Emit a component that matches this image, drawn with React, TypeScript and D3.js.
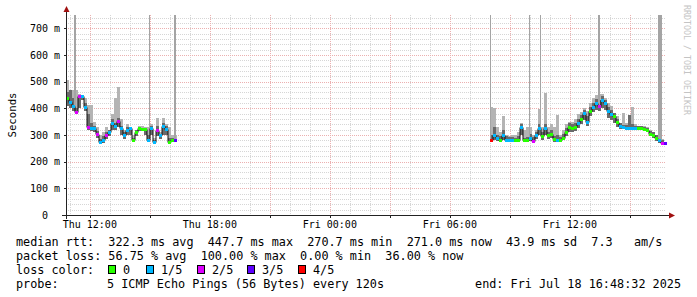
import React from "react";
import * as d3 from "d3";

// ---------- data ----------
const yTickValues = [0, 100, 200, 300, 400, 500, 600, 700];
const yTickLabels = ["0", "100 m", "200 m", "300 m", "400 m", "500 m", "600 m", "700 m"];
// minutes after window start (Thu 10:48:32)
const xTickMinutes = [71.47, 431.47, 791.47, 1151.47, 1511.47];
const xTickLabels = ["Thu 12:00", "Thu 18:00", "Fri 00:00", "Fri 06:00", "Fri 12:00"];
const windowMinutes = 1800;
const stepMinutes = 9;

const leftStart = 0;
const leftMedian = [440, 425, 410, 388, 446, 445, 405, 330, 328, 326, 305, 272, 280, 300, 312, 345, 335, 352, 325, 300, 320, 325, 282, 310, 326, 324, 322, 282, 326, 274, 320, 300, 332, 322, 275, 280, 280];
const leftLoss = [0, 1, 1, 2, 2, 1, 1, 2, 1, 1, 2, 1, 1, 2, 1, 1, 1, 2, 1, 1, 1, 1, 0, 0, 0, 0, 0, 1, 1, 1, 2, 1, 1, 1, 0, 0, 3];
const leftLo = [410, 400, 390, 380, 400, 430, 390, 320, 315, 310, 290, 265, 270, 285, 295, 320, 320, 330, 300, 285, 300, 300, 275, 295, 315, 315, 300, 272, 300, 268, 295, 285, 300, 300, 268, 272, 275];
const leftDarkHi = [460, 470, 440, 400, 450, 448, 420, 380, 345, 335, 315, 285, 295, 310, 318, 360, 345, 365, 335, 310, 330, 330, 290, 318, 330, 328, 326, 300, 332, 282, 335, 305, 345, 335, 290, 290, 285];
const leftHi = [506, 470, 470, 470, 452, 450, 440, 412, 412, 350, 330, 300, 310, 330, 320, 380, 438, 480, 360, 320, 340, 330, 300, 320, 332, 335, 330, 330, 340, 290, 362, 310, 362, 340, 330, 300, 300];

const rightStart = 1272;
const rightMedian = [282, 300, 290, 283, 300, 283, 282, 282, 281, 283, 330, 282, 282, 290, 278, 300, 325, 295, 325, 300, 305, 285, 280, 282, 290, 310, 330, 325, 330, 345, 360, 382, 350, 390, 405, 420, 410, 432, 420, 390, 380, 370, 350, 335, 330, 328, 328, 325, 326, 325, 326, 324, 318, 305, 300, 288, 280, 271, 271];
const rightLoss = [4, 1, 1, 0, 1, 1, 1, 1, 0, 0, 1, 0, 0, 1, 2, 1, 1, 0, 1, 0, 0, 0, 1, 0, 0, 0, 0, 0, 0, 1, 0, 1, 1, 0, 1, 1, 2, 1, 1, 1, 1, 0, 0, 1, 1, 1, 1, 1, 1, 0, 0, 0, 0, 0, 0, 0, 1, 2, 3];
const rightLo = [275, 280, 278, 272, 282, 272, 272, 272, 272, 272, 300, 272, 272, 278, 270, 285, 300, 280, 300, 285, 290, 275, 272, 272, 280, 295, 312, 310, 315, 325, 340, 355, 335, 370, 385, 395, 390, 400, 395, 365, 355, 345, 330, 322, 322, 320, 320, 318, 320, 318, 318, 316, 310, 295, 290, 278, 270, 265, 266];
const rightDarkHi = [300, 330, 300, 295, 320, 295, 292, 292, 290, 295, 340, 290, 292, 305, 292, 312, 340, 310, 340, 312, 318, 295, 300, 292, 305, 325, 345, 340, 345, 360, 375, 395, 370, 405, 420, 435, 430, 445, 432, 405, 395, 382, 360, 345, 338, 336, 375, 340, 334, 332, 332, 330, 325, 315, 310, 300, 290, 280, 275];
const rightHi = [405, 400, 330, 310, 370, 300, 295, 300, 300, 310, 345, 320, 330, 330, 300, 320, 397, 330, 457, 330, 340, 330, 375, 300, 320, 340, 350, 350, 360, 380, 386, 400, 390, 420, 440, 450, 455, 455, 440, 420, 410, 382, 370, 345, 382, 345, 375, 405, 340, 335, 335, 335, 330, 320, 310, 300, 290, 285, 275];

// off-scale spikes: centre minute, duration minutes, lower end (ms)
const spikeMinute = [25.5, 249, 325.5, 1273.5, 1389, 1422, 1599, 1780.5];
const spikeDuration = [6, 3, 6, 6, 3, 3, 6, 12];
const spikeBottom = [400, 300, 280, 280, 290, 300, 410, 275];

const lossColors = ["#26ff00", "#00b8ff", "#dd00ff", "#5e00ff", "#ff0000"];
const lossLabels = ["0", "1/5", "2/5", "3/5", "4/5"];

const statsLine1 = "median rtt:  322.3 ms avg  447.7 ms max  270.7 ms min  271.0 ms now  43.9 ms sd  7.3   am/s";
const statsLine2 = "packet loss: 56.75 % avg  100.00 % max  0.00 % min  36.00 % now";
const probeText = "5 ICMP Echo Pings (56 Bytes) every 120s";
const endText = "end: Fri Jul 18 16:48:32 2025";

// ---------- layout ----------
const W = 697, H = 297;
const PL = 66, PR = 666, PT = 15, PB = 215;
const mono = "'DejaVu Sans Mono', monospace";

const x = d3.scaleLinear().domain([0, windowMinutes]).range([PL, PR]);
const y = d3.scaleLinear().domain([0, 750]).range([PB, PT]);
const px = (v: number) => Math.round(v) + 0.5;

type Seg = { start: number; median: number[]; loss: number[]; lo: number[]; darkHi: number[]; hi: number[] };
const segments: Seg[] = [
  { start: leftStart, median: leftMedian, loss: leftLoss, lo: leftLo, darkHi: leftDarkHi, hi: leftHi },
  { start: rightStart, median: rightMedian, loss: rightLoss, lo: rightLo, darkHi: rightDarkHi, hi: rightHi },
];

export default function App() {
  const minorY = d3.range(0, 751, 20).filter((v) => v % 100 !== 0);
  const majorY = d3.range(100, 751, 100);
  const minorX: number[] = [];
  const majorX: number[] = [];
  for (let m = xTickMinutes[0] - 60; m < windowMinutes; m += 60) {
    if (m < 0) continue;
    const k = Math.round((m - xTickMinutes[0]) / 60);
    if (((k % 3) + 3) % 3 === 0) majorX.push(m);
    else minorX.push(m);
  }

  return (
    <svg width={W} height={H} style={{ position: "absolute", left: 0, top: 0, background: "#fff" }} fontFamily={mono}>
      <rect width={W} height={H} fill="#fff" />
      {/* grid */}
      <g shapeRendering="crispEdges">
        {minorY.map((v) => (
          <line key={"my" + v} x1={PL} x2={PR} y1={px(y(v))} y2={px(y(v))} stroke="#d6d6d6" strokeDasharray="1,1" />
        ))}
        {minorX.map((m) => (
          <line key={"mx" + m} x1={px(x(m))} x2={px(x(m))} y1={PT} y2={PB} stroke="#d6d6d6" strokeDasharray="1,1" />
        ))}
        {majorY.map((v) => (
          <line key={"My" + v} x1={PL} x2={PR} y1={px(y(v))} y2={px(y(v))} stroke="#ecb0b0" strokeDasharray="1,1" />
        ))}
        {majorX.map((m) => (
          <line key={"Mx" + m} x1={px(x(m))} x2={px(x(m))} y1={PT} y2={PB} stroke="#ecb0b0" strokeDasharray="1,1" />
        ))}
      </g>

      {/* smoke */}
      <g shapeRendering="crispEdges">
        {segments.map((s, si) =>
          s.median.map((_, i) => {
            const x0 = Math.round(x(s.start + i * stepMinutes));
            const x1 = Math.round(x(s.start + (i + 1) * stepMinutes));
            return (
              <g key={`s${si}-${i}`}>
                <rect x={x0} width={x1 - x0} y={y(s.hi[i])} height={y(s.lo[i]) - y(s.hi[i])} fill="#b4b4b4" />
                <rect x={x0} width={x1 - x0} y={y(s.darkHi[i])} height={y(s.lo[i]) - y(s.darkHi[i])} fill="#6a6a6a" />
              </g>
            );
          })
        )}
        {spikeMinute.map((m, i) => {
          const x0 = Math.round(x(m - spikeDuration[i] / 2));
          const x1 = Math.max(x0 + 1, Math.round(x(m + spikeDuration[i] / 2)));
          return <rect key={"sp" + i} x={x0} width={x1 - x0} y={PT} height={y(spikeBottom[i]) - PT} fill="#a4a4a4" />;
        })}
      </g>

      {/* median */}
      {segments.map((s, si) => {
        const pts: [number, number][] = [];
        s.median.forEach((v, i) => {
          pts.push([Math.round(x(s.start + i * stepMinutes)), Math.round(y(v)) + 0.5]);
          pts.push([Math.round(x(s.start + (i + 1) * stepMinutes)), Math.round(y(v)) + 0.5]);
        });
        const line = d3.line();
        return <path key={"ml" + si} d={line(pts) || ""} fill="none" stroke="#111" strokeWidth={1} />;
      })}
      <g shapeRendering="crispEdges">
        {segments.map((s, si) =>
          s.median.map((v, i) => {
            const x0 = Math.round(x(s.start + i * stepMinutes));
            const x1 = Math.round(x(s.start + (i + 1) * stepMinutes));
            return <rect key={`c${si}-${i}`} x={x0} width={x1 - x0} y={Math.round(y(v)) - 1} height={3} fill={lossColors[s.loss[i]]} />;
          })
        )}
      </g>

      {/* axes */}
      <g shapeRendering="crispEdges">
        <line x1={62} x2={671} y1={PB + 0.5} y2={PB + 0.5} stroke="#222" />
        <line x1={PL + 0.5} x2={PL + 0.5} y1={219} y2={10} stroke="#222" />
        {yTickValues.map((v) => (
          <line key={"yt" + v} x1={PL - 2} x2={PL} y1={px(y(v))} y2={px(y(v))} stroke="#222" />
        ))}
        {majorX.map((m) => (
          <line key={"xt" + m} x1={px(x(m))} x2={px(x(m))} y1={PB} y2={PB + 3} stroke="#222" />
        ))}
      </g>
      <path d={`M${PL + 0.5},6 L${PL - 2.5},12 L${PL + 3.5},12 Z`} fill="#a01010" />
      <path d={`M675,${PB + 0.5} L669,${PB - 2.5} L669,${PB + 3.5} Z`} fill="#a01010" />

      {/* tick labels */}
      {yTickValues.map((v, i) => (
        <text key={"yl" + v} x={yTickLabels[i].includes(" ") ? 60 : 48} y={y(v) + 3.5} fontSize={10} textAnchor="end" fill="#000">
          {yTickLabels[i]}
        </text>
      ))}
      {xTickMinutes.map((m, i) => (
        <text key={"xl" + m} x={x(m)} y={228} fontSize={10} textAnchor="middle" fill="#000">
          {xTickLabels[i]}
        </text>
      ))}
      <text transform="translate(15.5,115) rotate(-90)" fontSize={10.7} textAnchor="middle" fill="#000">
        Seconds
      </text>
      <text transform="translate(684,5) rotate(90)" fontSize={8.3} fill="#c4c4c4">
        RRDTOOL / TOBI OETIKER
      </text>

      {/* legend */}
      <g fontSize={11.8} fill="#000" style={{ whiteSpace: "pre" }}>
        <text x={16} y={245.5} xmlSpace="preserve">{statsLine1}</text>
        <text x={16} y={259.5} xmlSpace="preserve">{statsLine2}</text>
        <text x={16} y={273.5}>loss color:</text>
        {lossLabels.map((l, i) => {
          const bx = [108, 146, 197, 247, 298][i];
          return (
            <g key={"lg" + i}>
              <rect x={bx + 0.5} y={265.5} width={7} height={8} fill={lossColors[i]} stroke="#000" strokeWidth={1} shapeRendering="crispEdges" />
              <text x={bx + 15} y={273.5}>{l}</text>
            </g>
          );
        })}
        <text x={16} y={287.5}>probe:</text>
        <text x={107} y={287.5}>{probeText}</text>
        <text x={681} y={287.5} textAnchor="end">{endText}</text>
      </g>
    </svg>
  );
}
